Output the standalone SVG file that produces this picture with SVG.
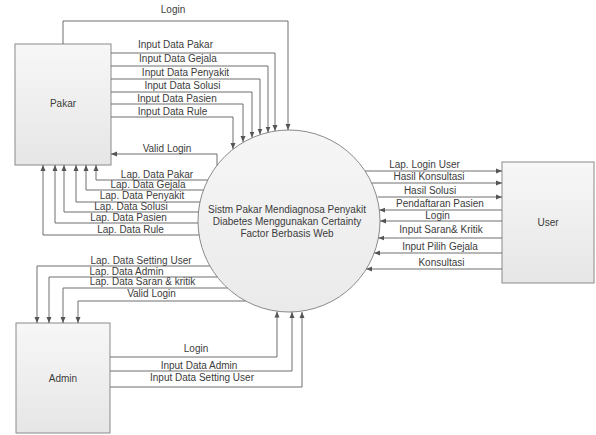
<svg xmlns="http://www.w3.org/2000/svg" width="596" height="435" viewBox="0 0 596 435">
<style>
.box{stroke:#8a8a8a;stroke-width:1;fill:url(#g)}
.proc{stroke:#8a8a8a;stroke-width:1;fill:url(#gc)}
.c{fill:none;stroke:#6e6e6e;stroke-width:1;marker-end:url(#ah)}
text{font-family:"Liberation Sans",Arial,sans-serif;font-size:10px;fill:#3c3c3c;text-anchor:middle}
</style>
<defs>
<linearGradient id="g" x1="0" y1="0" x2="0" y2="1"><stop offset="0" stop-color="#f7f7f7"/><stop offset="1" stop-color="#e6e6e6"/></linearGradient>
<linearGradient id="gc" x1="0" y1="0" x2="0" y2="1"><stop offset="0" stop-color="#f6f6f6"/><stop offset="1" stop-color="#eaeaea"/></linearGradient>
<marker id="ah" viewBox="0 0 6 6" refX="6" refY="3" markerWidth="6" markerHeight="6" orient="auto" markerUnits="userSpaceOnUse"><path d="M0,0.5 L6,3 L0,5.5 z" fill="#555"/></marker>
</defs>
<rect width="596" height="435" fill="#ffffff"/>
<g id="pakar"><rect class="box" x="15" y="44" width="96" height="121"/><text x="63" y="107">Pakar</text></g>
<g id="user"><rect class="box" x="502" y="162" width="92" height="121"/><text x="548" y="226">User</text></g>
<g id="admin"><rect class="box" x="16" y="323" width="94" height="110"/><text x="63" y="382">Admin</text></g>
<g id="sistem"><circle class="proc" cx="289" cy="221" r="91"/><text x="287" y="213">Sistm Pakar Mendiagnosa Penyakit</text><text x="287" y="225">Diabetes Menggunakan Certainty</text><text x="287" y="237">Factor Berbasis Web</text></g>
<g id="connectors">
<path class="c" d="M63,44 V21 H288 V130"/>
<path class="c" d="M111,53 H275 V131"/>
<path class="c" d="M111,66 H268 V132.5"/>
<path class="c" d="M111,79 H260 V134.5"/>
<path class="c" d="M111,92 H252 V137.5"/>
<path class="c" d="M111,104 H243 V142"/>
<path class="c" d="M111,117 H233 V149"/>
<path class="c" d="M217,165.5 V154 H111"/>
<path class="c" d="M207.8,180 H96 V165"/>
<path class="c" d="M203.4,190 H86 V165"/>
<path class="c" d="M200,202 H76 V165"/>
<path class="c" d="M198.5,212 H64 V165"/>
<path class="c" d="M198,223 H55 V165"/>
<path class="c" d="M199.1,235 H43 V165"/>
<path class="c" d="M365,171 H502"/>
<path class="c" d="M371.7,183 H502"/>
<path class="c" d="M377.8,197 H502"/>
<path class="c" d="M502,210 H379.3"/>
<path class="c" d="M502,221 H380"/>
<path class="c" d="M502,238 H378.4"/>
<path class="c" d="M502,253 H374.2"/>
<path class="c" d="M502,269 H366.3"/>
<path class="c" d="M209.9,266 H37 V323"/>
<path class="c" d="M217.3,277 H49 V323"/>
<path class="c" d="M227.4,288 H63 V323"/>
<path class="c" d="M245.6,301 H78 V323"/>
<path class="c" d="M110,357 H277 V311.5"/>
<path class="c" d="M110,371 H292 V312"/>
<path class="c" d="M110,387 H302 V312"/>
</g>
<g id="labels">
<text x="173" y="13">Login</text>
<text x="175.5" y="48">Input Data Pakar</text>
<text x="178" y="62">Input Data Gejala</text>
<text x="185.5" y="76">Input Data Penyakit</text>
<text x="182.5" y="89">Input Data Solusi</text>
<text x="177" y="102">Input Data Pasien</text>
<text x="172.5" y="115">Input Data Rule</text>
<text x="167" y="152">Valid Login</text>
<text x="157" y="178">Lap. Data Pakar</text>
<text x="148" y="188">Lap. Data Gejala</text>
<text x="142" y="199">Lap. Data Penyakit</text>
<text x="131" y="210">Lap. Data Solusi</text>
<text x="128.5" y="221">Lap. Data Pasien</text>
<text x="130.5" y="233">Lap. Data Rule</text>
<text x="424.5" y="168">Lap. Login User</text>
<text x="429" y="180">Hasil Konsultasi</text>
<text x="430" y="194">Hasil Solusi</text>
<text x="440" y="207">Pendaftaran Pasien</text>
<text x="437.5" y="219">Login</text>
<text x="441" y="233">Input Saran&amp; Kritik</text>
<text x="440" y="250">Input Pilih Gejala</text>
<text x="441.5" y="266">Konsultasi</text>
<text x="141" y="264">Lap. Data Setting User</text>
<text x="126.5" y="275">Lap. Data Admin</text>
<text x="142.5" y="285">Lap. Data Saran &amp; kritik</text>
<text x="151.5" y="297">Valid Login</text>
<text x="196" y="352">Login</text>
<text x="199" y="369">Input Data Admin</text>
<text x="202" y="381">Input Data Setting User</text>
</g>
</svg>
